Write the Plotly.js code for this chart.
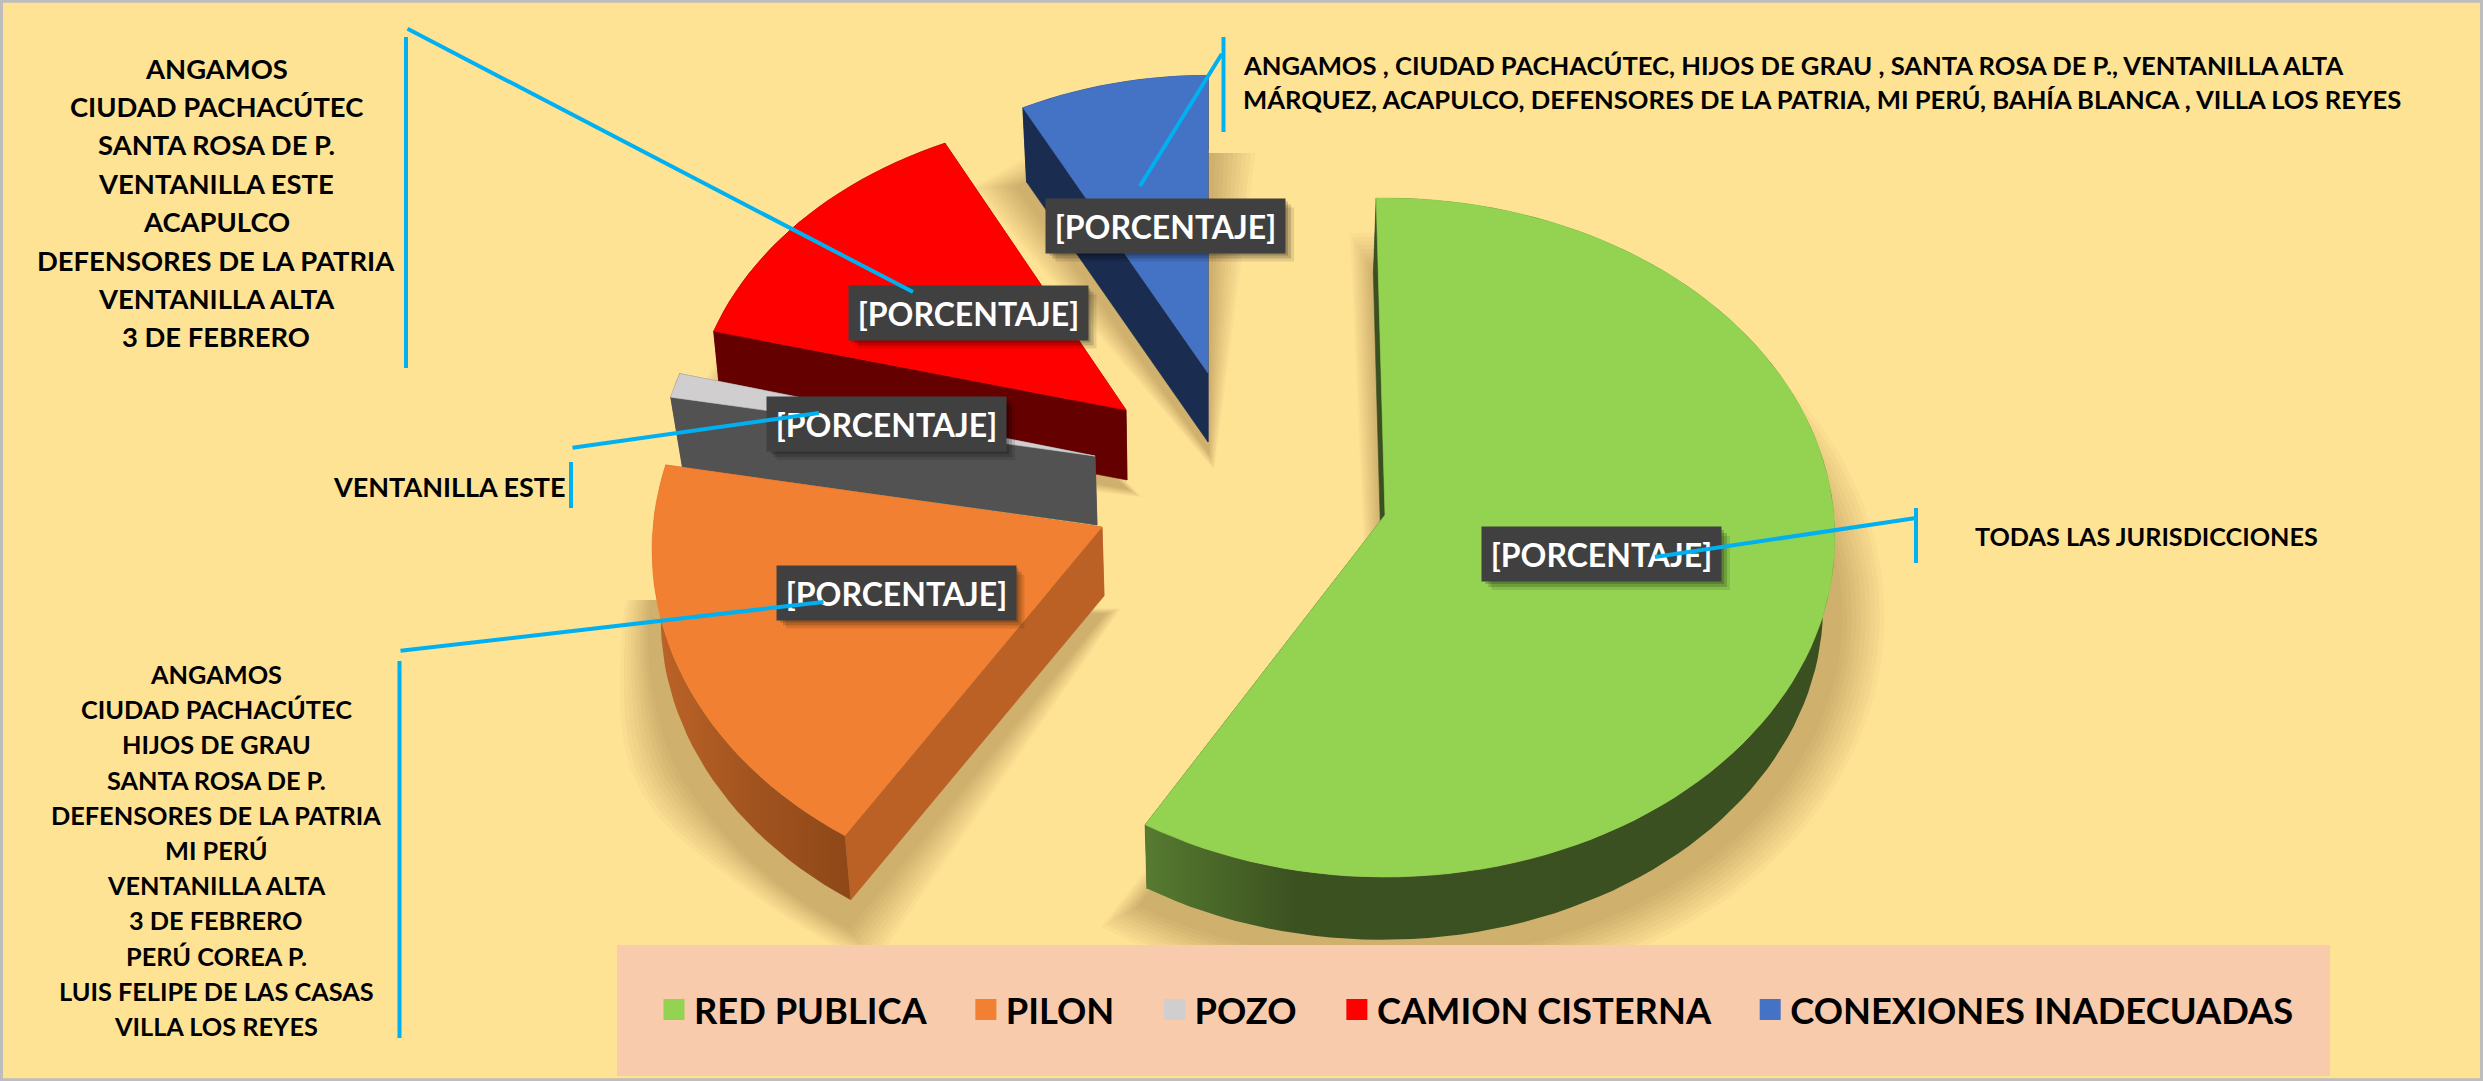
<!DOCTYPE html>
<html>
<head>
<meta charset="utf-8">
<script src="https://cdn.plot.ly/plotly-3.0.1.min.js"></script>
<style>html,body{margin:0;padding:0;overflow:hidden;background:#ffe395}#chart{width:2483px;height:1081px}</style>
</head>
<body>
<div id="chart"></div>
<script>
// ---- DATA ----
var categories = ['RED PUBLICA', 'PILON', 'POZO', 'CAMION CISTERNA', 'CONEXIONES INADECUADAS'];
var values = [58.4, 19.5, 1.2, 13.2, 7.7];
var percentLabel = '[PORCENTAJE]';
var redPublicaPlaces = ['TODAS LAS JURISDICCIONES'];
var pilonPlaces = ['ANGAMOS', 'CIUDAD PACHACÚTEC', 'HIJOS DE GRAU', 'SANTA ROSA DE P.', 'DEFENSORES DE LA PATRIA', 'MI PERÚ', 'VENTANILLA ALTA', '3 DE FEBRERO', 'PERÚ COREA P.', 'LUIS FELIPE DE LAS CASAS', 'VILLA LOS REYES'];
var pozoPlaces = ['VENTANILLA ESTE'];
var cisternaPlaces = ['ANGAMOS', 'CIUDAD PACHACÚTEC', 'SANTA ROSA DE P.', 'VENTANILLA ESTE', 'ACAPULCO', 'DEFENSORES DE LA PATRIA', 'VENTANILLA ALTA', '3 DE FEBRERO'];
var inadecuadasPlaces = ['ANGAMOS , CIUDAD PACHACÚTEC, HIJOS DE GRAU , SANTA ROSA DE P., VENTANILLA ALTA', 'MÁRQUEZ, ACAPULCO, DEFENSORES DE LA PATRIA, MI PERÚ, BAHÍA BLANCA , VILLA LOS REYES'];

// ---- STYLE AND LAYOUT (not data) ----
var FONT = 'Lato, Carlito, sans-serif';
var topColors = ['#93d351', '#f28032', '#d0cece', '#ff0000', '#4472c4'];
var wallColors = ['#3a5020', '#bb6125', '#525252', '#650000', '#1a2c50'];
var arcWallScale = [
  [[0, '#567b30'], [0.22, '#3b5120'], [1, '#3a5020']],
  [[0, '#bd6428'], [0.5, '#a2541f'], [1, '#8e4718']],
  null, null, null
];
// explosion: tip of each slice on the canvas, radius factor, vertical factor, wall depth, wall shrink, wall x offset
var tipX = [1385, 1102, 1095, 1126, 1208];
var tipY = [515, 527, 456, 410, 373];
var radiusK = [1, 1, 0.972, 0.965, 0.935];
var vScale = [1, 1.025, 1, 0.964, 1];
var depth = [70, 69, 69, 70, 69];
var shrink = [0.98, 0.985, 0.977, 0.985, 0.98];
var wallDx = [-3, 2, 2, 1, 0];
var startLean = [-1.2, 2.5, 0, 0, 0];
var endLean = [0, 0, 0, 1.5, 0];
// shadow: shift, top clamp, spread
var shadowDy = [78, 88, 0, 78, 78];
var shadowTop = [226, 600, 0, 332, 153];
var shadowSpread = [50, 50, 0, 46, 50];
// tilted-disc projection
var R = 449, S = 338, P = 0.0663;

function project(i, deg, r) {
  var a = deg * Math.PI / 180, u = r * Math.sin(a), v = r * Math.cos(a), w = 1 + P * v;
  return [R * u / w, -S * vScale[i] * v / w];
}
function arcPts(i, a0, a1) {
  var n = Math.max(2, Math.ceil(Math.abs(a1 - a0) / 2)), pts = [];
  for (var j = 0; j <= n; j++) pts.push(project(i, a0 + (a1 - a0) * j / n, radiusK[i]));
  return pts;
}
function onTop(i, p) { return [tipX[i] + p[0], tipY[i] + p[1]]; }
function onBottom(i, p) { return [tipX[i] + wallDx[i] + p[0] * shrink[i], tipY[i] + depth[i] + p[1] * shrink[i]]; }
function poly(pts, color, scale) {
  var t = {
    x: pts.map(function (p) { return p[0]; }).concat([pts[0][0]]),
    y: pts.map(function (p) { return p[1]; }).concat([pts[0][1]]),
    mode: 'lines', fill: 'toself', hoverinfo: 'skip', showlegend: false,
    line: { width: 0.6, color: color }, xaxis: 'x', yaxis: 'y'
  };
  if (scale) { t.fillgradient = { type: 'horizontal', colorscale: scale }; t.line = { width: 0 }; }
  else t.fillcolor = color;
  return t;
}

var total = values.reduce(function (a, b) { return a + b; }, 0);
var angles = [], cum = 0;
values.forEach(function (v, i) {
  var a0 = cum / total * 360; cum += v;
  angles.push([a0 + startLean[i], cum / total * 360 + endLean[i]]);
});

var traces = [];
// soft shadows, stacked translucent layers
[4, 3, 1, 0].forEach(function (i) {
  if (!shadowSpread[i]) return;
  var arc = arcPts(i, angles[i][0], angles[i][1]);
  var base = [[0, 0]].concat(arc).map(function (p) { return onTop(i, p); });
  var cx = 0, cy = 0;
  base.forEach(function (p) { cx += p[0]; cy += p[1]; });
  cx /= base.length; cy /= base.length;
  var LAYERS = 10;
  for (var l = 0; l < LAYERS; l++) {
    var e = shadowSpread[i] * (1 - 0.85 * l / (LAYERS - 1));
    var pts = base.map(function (p, k) {
      var dx = p[0] - cx, dy = p[1] - cy, d = Math.sqrt(dx * dx + dy * dy) || 1, f = 1 + (k === 0 ? e * 0.4 : e) / d;
      return [cx + dx * f, Math.max(shadowTop[i], cy + dy * f + shadowDy[i])];
    });
    traces.push(poly(pts, 'rgba(70,50,0,0.028)'));
    traces[traces.length - 1].line = { width: 0 };
  }
});
// slices, back to front: walls then top face
[4, 3, 2, 1, 0].forEach(function (i) {
  var arc = arcPts(i, angles[i][0], angles[i][1]);
  var first = arc[0], last = arc[arc.length - 1], o = [0, 0];
  traces.push(poly([onTop(i, o), onTop(i, last), onBottom(i, last), onBottom(i, o)], wallColors[i]));
  traces.push(poly([onTop(i, o), onTop(i, first), onBottom(i, first), onBottom(i, o)], wallColors[i]));
  var wall = arc.map(function (p) { return onTop(i, p); }).concat(arc.slice().reverse().map(function (p) { return onBottom(i, p); }));
  traces.push(poly(wall, wallColors[i], arcWallScale[i]));
  traces.push(poly([o].concat(arc).map(function (p) { return onTop(i, p); }), topColors[i]));
});
// legend entries (trailing no-break spaces widen the gap between entries)
var legendPad = '\u00a0\u00a0\u00a0\u00a0';
categories.forEach(function (c, i) {
  traces.push({
    x: [null], y: [null], name: c + (i < categories.length - 1 ? legendPad : ''), mode: 'markers', showlegend: true, hoverinfo: 'skip',
    marker: { symbol: 'square', size: 16, color: topColors[i], line: { width: 5, color: topColors[i] } }
  });
});

// ---- text, boxes, leader lines ----
var annotations = [], shapes = [];
function label(text, x, y, size, anchor) {
  annotations.push({ text: text, x: x, y: y, xref: 'x', yref: 'y', showarrow: false, xanchor: anchor || 'center', yanchor: 'middle',
    font: { family: FONT, size: size, color: '#000', weight: 700 } });
}
cisternaPlaces.forEach(function (t, i) { label(t, 216, 68 + i * 38.4, 27.4); });
pilonPlaces.forEach(function (t, i) { label(t, 216, 674 + i * 35.2, 25.3); });
label(pozoPlaces[0], 449, 486, 27);
label(redPublicaPlaces[0], 2146, 536, 25.2);
inadecuadasPlaces.forEach(function (t, i) { label(t, 1241, 65 + i * 34, 25.6, 'left'); });

var boxCx = [1601.5, 896, 886.5, 968, 1165.5];
var boxCy = [554, 592.5, 424, 312.5, 225.5];
var ticks = [[1916, 508, 563], [399.5, 661, 1038], [571, 462, 508], [406, 37, 368], [1223.5, 37, 132]];
var leaders = [[1655, 557, 1916, 518], [823.5, 602, 399, 651], [819, 413, 571, 448], [913, 292, 406, 28], [1140, 186, 1223, 52]];

shapes.push({ type: 'rect', xref: 'x', yref: 'y', x0: 617, x1: 2330, y0: 945, y1: 1076, fillcolor: '#f8cbad', line: { width: 0 }, layer: 'above' });
shapes.push({ type: 'rect', xref: 'paper', yref: 'paper', x0: 0.0006, x1: 0.9994, y0: 0.0012, y1: 0.9988, fillcolor: 'rgba(0,0,0,0)', line: { color: '#bdbdbd', width: 3 }, layer: 'above' });
boxCx.forEach(function (cx, i) {
  [[9, 0.10], [6, 0.16], [3, 0.18]].forEach(function (s) {
    shapes.push({ type: 'rect', xref: 'x', yref: 'y', x0: cx - 119 + s[0], x1: cx + 119.5 + s[0], y0: boxCy[i] - 27 + s[0], y1: boxCy[i] + 27 + s[0], fillcolor: 'rgba(0,0,0,' + s[1] + ')', line: { width: 0 }, layer: 'above' });
  });
  annotations.push({ text: percentLabel, x: cx, y: boxCy[i], xref: 'x', yref: 'y', showarrow: false, width: 239, height: 54, bgcolor: '#404040', borderpad: 0, align: 'center', valign: 'middle',
    font: { family: FONT, size: 32, color: '#fff', weight: 700 } });
  shapes.push({ type: 'line', xref: 'x', yref: 'y', x0: ticks[i][0], x1: ticks[i][0], y0: ticks[i][1], y1: ticks[i][2], line: { color: '#00b0f0', width: 4 }, layer: 'above' });
});
leaders.forEach(function (l) {
  annotations.push({ text: ' ', x: l[0], y: l[1], ax: l[2], ay: l[3], xref: 'x', yref: 'y', axref: 'x', ayref: 'y', showarrow: true, arrowhead: 0, arrowwidth: 4, arrowcolor: '#00b0f0', standoff: 0, startstandoff: 0, font: { size: 1 } });
});

Plotly.newPlot('chart', traces, {
  width: 2483, height: 1081, margin: { l: 0, r: 0, t: 0, b: 0 },
  paper_bgcolor: '#ffe395', plot_bgcolor: 'rgba(0,0,0,0)',
  xaxis: { range: [0, 2483], visible: false, fixedrange: true },
  yaxis: { range: [1081, 0], visible: false, fixedrange: true },
  legend: { orientation: 'h', x: 654 / 2483, y: 1 - 1010 / 1081, xanchor: 'left', yanchor: 'middle', bgcolor: 'rgba(0,0,0,0)', itemclick: false, itemdoubleclick: false,
    font: { family: FONT, size: 36.3, color: '#000', weight: 700 } },
  annotations: annotations, shapes: shapes, hovermode: false
}, { displayModeBar: false, staticPlot: true });
</script>
</body>
</html>
